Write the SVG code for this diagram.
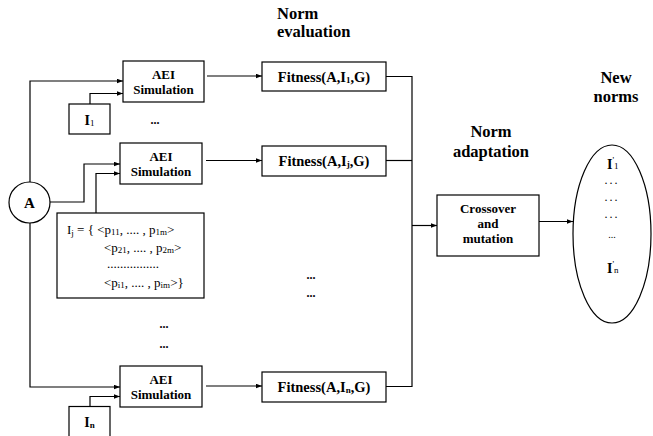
<svg xmlns="http://www.w3.org/2000/svg" width="653" height="436" viewBox="0 0 653 436">
<defs>
<marker id="ah" viewBox="0 0 8 6" refX="8" refY="3" markerWidth="6" markerHeight="5" orient="auto" markerUnits="userSpaceOnUse">
<path d="M0,0 L8,3 L0,6 z" fill="#000"/>
</marker>
<style>
.box{fill:#fff;stroke:#000;stroke-width:1.2}
.ln{fill:none;stroke:#000;stroke-width:1.2}
.arr{fill:none;stroke:#000;stroke-width:1.2;marker-end:url(#ah)}
text{fill:#000;font-family:"Liberation Serif","Times New Roman",serif}
.b{font-weight:700}
.h{font-size:16.5px;font-weight:700}
.aei{font-size:13px;font-weight:700;text-anchor:middle}
.fit{font-size:14.5px;font-weight:700;text-anchor:middle}
.ij{font-size:13px}
.sub{font-size:9px}
</style>
</defs>
<rect width="653" height="436" fill="#fff"/>

<g id="labels">
<text class="h" x="277" y="19">Norm</text>
<text class="h" x="277" y="37">evaluation</text>
<text class="h" x="491" y="137" text-anchor="middle">Norm</text>
<text class="h" x="491" y="157" text-anchor="middle">adaptation</text>
<text class="h" x="616" y="83" text-anchor="middle">New</text>
<text class="h" x="616" y="102" text-anchor="middle">norms</text>
<text class="b" x="155" y="124" font-size="12" text-anchor="middle">...</text>
<text class="b" x="311" y="279" font-size="12" text-anchor="middle">...</text>
<text class="b" x="311" y="297" font-size="12" text-anchor="middle">...</text>
<text class="b" x="164" y="328" font-size="12" text-anchor="middle">...</text>
<text class="b" x="164" y="348" font-size="12" text-anchor="middle">...</text>
</g>

<g id="connectors">
<polyline class="arr" points="30,182 30,81 123,81"/>
<polyline class="arr" points="30,223 30,387 120,387"/>
<polyline class="arr" points="90,104 90,93.5 123,93.5"/>
<polyline class="arr" points="50,202 84,202 84,164 120,164"/>
<polyline class="arr" points="96,213 96,173.5 120,173.5"/>
<polyline class="arr" points="90,406.5 90,396.5 120,396.5"/>
<line class="arr" x1="207" y1="76" x2="262" y2="76"/>
<line class="arr" x1="206" y1="160.5" x2="262" y2="160.5"/>
<line class="arr" x1="206" y1="386" x2="262" y2="386"/>
<polyline class="ln" points="386,76.5 412,76.5 412,386.5 386,386.5"/>
<line class="ln" x1="386" y1="160.5" x2="412" y2="160.5"/>
<line class="arr" x1="412" y1="225.5" x2="437" y2="225.5"/>
<line class="arr" x1="539" y1="221.5" x2="573" y2="221.5"/>
</g>

<g id="aei1">
<rect class="box" x="123" y="61" width="81" height="41"/>
<text class="aei" x="163.5" y="79">AEI</text>
<text class="aei" x="163.5" y="94">Simulation</text>
</g>
<g id="i1">
<rect class="box" x="69" y="104" width="41" height="30"/>
<text x="89.5" y="125" font-size="14" text-anchor="middle"><tspan font-weight="700">I</tspan><tspan class="sub" dy="1">1</tspan></text>
</g>
<g id="aei2">
<rect class="box" x="120" y="143" width="82" height="41"/>
<text class="aei" x="161" y="161">AEI</text>
<text class="aei" x="161" y="176">Simulation</text>
</g>
<g id="a">
<circle class="box" cx="29.5" cy="202.5" r="20.5"/>
<text x="29.5" y="208" font-size="15" font-weight="700" text-anchor="middle">A</text>
</g>
<g id="ij">
<rect class="box" x="57" y="213" width="147" height="85"/>
<text class="ij" x="67" y="234">I<tspan class="sub" dy="2">j</tspan><tspan dy="-2"> = {  &lt;p</tspan><tspan class="sub" dy="1">11</tspan><tspan dy="-1">, .... , p</tspan><tspan class="sub" dy="1">1m</tspan><tspan dy="-1">&gt;</tspan></text>
<text class="ij" x="104" y="252">&lt;p<tspan class="sub" dy="1">21</tspan><tspan dy="-1">, .... , p</tspan><tspan class="sub" dy="1">2m</tspan><tspan dy="-1">&gt;</tspan></text>
<text class="ij" x="107" y="268">................</text>
<text class="ij" x="104" y="287">&lt;p<tspan class="sub" dy="1">i1</tspan><tspan dy="-1">, .... , p</tspan><tspan class="sub" dy="1">im</tspan><tspan dy="-1">&gt;}</tspan></text>
</g>
<g id="aein">
<rect class="box" x="120" y="366" width="82" height="41"/>
<text class="aei" x="161" y="384">AEI</text>
<text class="aei" x="161" y="399">Simulation</text>
</g>
<g id="in">
<rect class="box" x="69" y="406.5" width="41" height="31"/>
<text x="89.5" y="427" font-size="14" text-anchor="middle"><tspan font-weight="700">I</tspan><tspan class="sub" font-weight="700" dy="1">n</tspan></text>
</g>
<g id="fit1">
<rect class="box" x="262" y="62" width="124" height="29"/>
<text class="fit" x="324" y="82">Fitness(A,I<tspan class="sub" dy="1">1</tspan><tspan dy="-1">,G)</tspan></text>
</g>
<g id="fitj">
<rect class="box" x="262" y="146" width="124" height="30"/>
<text class="fit" x="324" y="166">Fitness(A,I<tspan class="sub" dy="1">j</tspan><tspan dy="-1">,G)</tspan></text>
</g>
<g id="fitn">
<rect class="box" x="262" y="372" width="124" height="30"/>
<text class="fit" x="324" y="392">Fitness(A,I<tspan class="sub" dy="1">n</tspan><tspan dy="-1">,G)</tspan></text>
</g>
<g id="crossover">
<rect class="box" x="437" y="195" width="102" height="61"/>
<text class="aei" x="488" y="213" font-size="12">Crossover</text>
<text class="aei" x="488" y="228" font-size="12">and</text>
<text class="aei" x="488" y="243" font-size="12">mutation</text>
</g>
<g id="newnorms">
<ellipse class="box" cx="612" cy="234" rx="39" ry="89"/>
<text x="607" y="169" font-size="14"><tspan font-weight="700">I</tspan><tspan class="sub" dy="-6">'</tspan><tspan class="sub" dy="6">1</tspan></text>
<text x="612" y="184" font-size="12" text-anchor="middle" letter-spacing="2">...</text>
<text x="612" y="201" font-size="12" text-anchor="middle" letter-spacing="2">...</text>
<text x="612" y="218" font-size="12" text-anchor="middle" letter-spacing="2">...</text>
<text x="612" y="238" font-size="10" text-anchor="middle">...</text>
<text x="607" y="273" font-size="14"><tspan font-weight="700">I</tspan><tspan class="sub" dy="-6">'</tspan><tspan class="sub" dy="6">n</tspan></text>
</g>
</svg>
